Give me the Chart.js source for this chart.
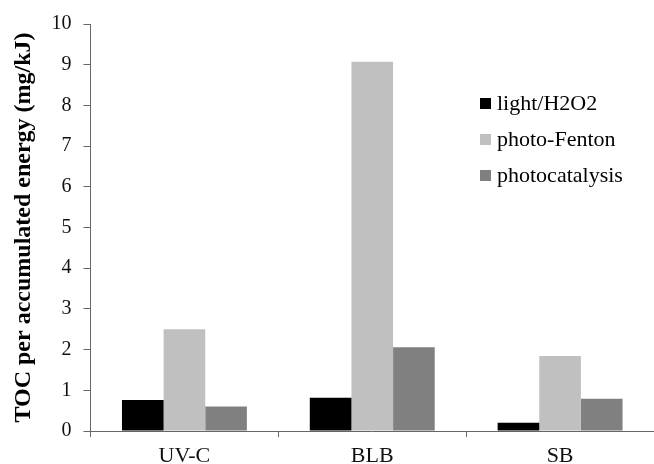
<!DOCTYPE html>
<html><head><meta charset="utf-8">
<script src="https://cdn.jsdelivr.net/npm/chart.js@4/dist/chart.umd.min.js"></script>
<style>html,body{margin:0;padding:0;background:#fff}#wrap{width:654px;height:464px}</style>
</head><body><div id="wrap"><canvas id="c" width="654" height="464"></canvas></div>
<script>
const categories = ["UV-C", "BLB", "SB"];
const lightH2O2 = [0.76, 0.82, 0.20];
const photoFenton = [2.50, 9.07, 1.84];
const photocatalysis = [0.60, 2.06, 0.79];
const yTicks = [0,1,2,3,4,5,6,7,8,9,10];

const legendPlugin = {
  id: 'customLegend',
  afterDraw(chart) {
    const ctx = chart.ctx;
    ctx.save();
    ctx.font = '22px "Liberation Serif", serif';
    ctx.textBaseline = 'middle';
    chart.data.datasets.forEach((ds, i) => {
      const y = 104 + i * 36;
      ctx.fillStyle = ds.backgroundColor;
      ctx.fillRect(480, y - 6, 11, 11);
      ctx.fillStyle = '#000';
      ctx.fillText(ds.label, 497, y);
    });
    ctx.restore();
  }
};

new Chart(document.getElementById('c'), {
  type: 'bar',
  data: {
    labels: categories,
    datasets: [
      {label: 'light/H2O2', data: lightH2O2, backgroundColor: '#000000'},
      {label: 'photo-Fenton', data: photoFenton, backgroundColor: '#c0c0c0'},
      {label: 'photocatalysis', data: photocatalysis, backgroundColor: '#808080'}
    ]
  },
  options: {
    responsive: false,
    animation: false,
    layout: {padding: {top: 24, right: 0, left: 9, bottom: 0}},
    datasets: {bar: {categoryPercentage: 0.665, barPercentage: 1.0}},
    plugins: {legend: {display: false}, tooltip: {enabled: false}},
    scales: {
      x: {
        grid: {drawOnChartArea: false, drawTicks: true, tickLength: 6, color: '#666'},
        border: {color: '#666'},
        ticks: {color: '#111', font: {family: '"Liberation Serif", serif', size: 22}, padding: 6},
        afterFit(s) { s.height = 33; }
      },
      y: {
        min: 0, max: 10,
        afterBuildTicks(s) { s.ticks = yTicks.map(v => ({value: v})); },
        grid: {drawOnChartArea: false, drawTicks: true, tickLength: 7, color: '#666'},
        border: {color: '#666'},
        ticks: {color: '#111', font: {family: '"Liberation Serif", serif', size: 20}, padding: 12},
        title: {display: true, text: 'TOC per accumulated energy (mg/kJ)', color: '#000',
          font: {family: '"Liberation Serif", serif', size: 24, weight: 'bold'}, padding: {top: 0, bottom: 0}},
        afterFit(s) { s.width = 81.5; }
      }
    }
  },
  plugins: [legendPlugin]
});
</script></body></html>
